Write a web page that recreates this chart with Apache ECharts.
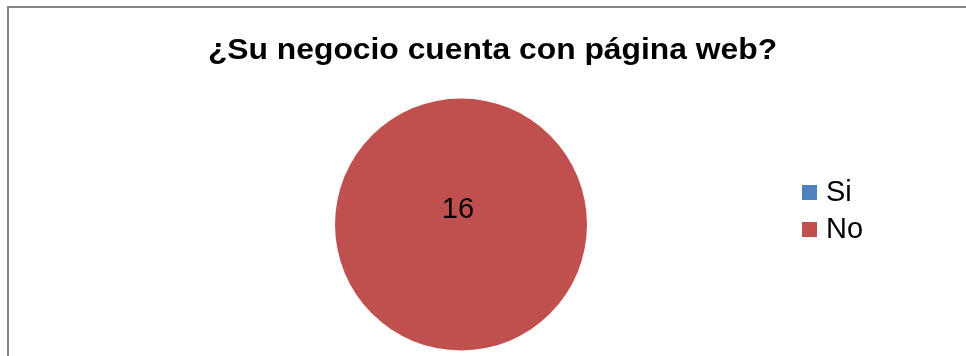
<!DOCTYPE html>
<html>
<head>
<meta charset="utf-8">
<script src="https://cdn.jsdelivr.net/npm/echarts@6/dist/echarts.min.js"></script>
<style>
  html, body { margin: 0; padding: 0; background: #fff; }
  #chart { width: 966px; height: 356px; }
</style>
</head>
<body>
<div id="chart"></div>
<script>
// Survey answers: does the business have a website?
const titleText = '¿Su negocio cuenta con página web?';
const categories = ['Si', 'No'];
const counts = [0, 16];
const colors = ['#4F81BD', '#C0504D'];

const FONT = 'Liberation Sans, Arial, sans-serif';

const chart = echarts.init(document.getElementById('chart'), null, { renderer: 'canvas' });

const pieData = categories.map((name, i) => ({
  name: name,
  value: counts[i],
  itemStyle: { color: colors[i] }
}));

chart.setOption({
  animation: false,
  backgroundColor: '#ffffff',
  graphic: [
    {
      // chart-area frame
      type: 'rect',
      shape: { x: 8, y: 7, width: 1000, height: 400 },
      style: { fill: 'none', stroke: '#868686', lineWidth: 2 },
      silent: true
    },
    {
      // bold title, slightly widened
      type: 'text',
      x: 492.5,
      y: 36,
      scaleX: 1.097,
      style: {
        text: titleText,
        fontFamily: FONT,
        fontWeight: 'bold',
        fontSize: 29,
        fill: '#000',
        align: 'center',
        verticalAlign: 'top'
      },
      silent: true
    }
  ],
  legend: {
    orient: 'vertical',
    left: 797,
    top: 173,
    icon: 'rect',
    itemWidth: 15,
    itemHeight: 15,
    itemGap: 8,
    data: categories,
    textStyle: {
      fontFamily: FONT,
      fontSize: 29,
      color: '#000',
      padding: [0, 0, 0, 4]
    }
  },
  series: [{
    type: 'pie',
    center: [461, 224.5],
    radius: [0, 126],
    startAngle: 90,
    clockwise: true,
    data: pieData,
    itemStyle: { borderWidth: 0 },
    label: {
      show: true,
      position: 'center',
      offset: [-3, -15],
      formatter: p => (p.value > 0 ? String(p.value) : ''),
      fontFamily: FONT,
      fontSize: 29,
      color: '#000'
    },
    labelLine: { show: false },
    emphasis: { disabled: true }
  }]
});
</script>
</body>
</html>
